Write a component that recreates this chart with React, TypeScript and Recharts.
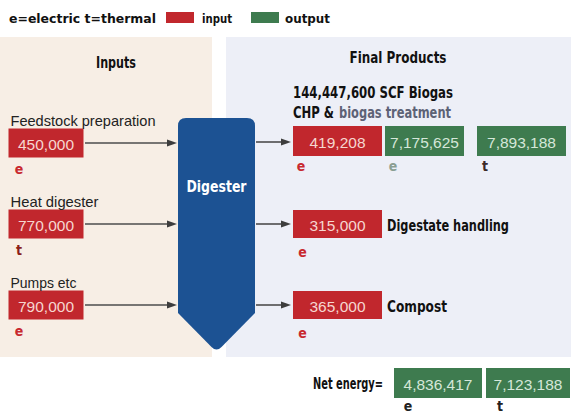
import React from "react";
import { ComposedChart, XAxis, YAxis, Scatter, ReferenceArea, ReferenceLine } from "recharts";

// ---------------- data ----------------
const legendNote = "e=electric t=thermal";
const legendKinds = ["input", "output"];

const inputsTitle = "Inputs";
const productsTitle = "Final Products";
const digesterLabel = "Digester";

const inputLabels = ["Feedstock preparation", "Heat digester", "Pumps etc"];
const inputValues = [450000, 770000, 790000];
const inputTypes = ["e", "t", "e"];

const biogasLabel = "144,447,600 SCF Biogas";
const chpLabelParts = ["CHP &", "biogas treatment"];
const chpValues = [419208, 7175625, 7893188];
const chpKinds = ["input", "output", "output"];
const chpTypes = ["e", "e", "t"];

const productLabels = ["Digestate handling", "Compost"];
const productValues = [315000, 365000];
const productTypes = ["e", "e"];

const netLabel = "Net energy=";
const netValues = [4836417, 7123188];
const netKinds = ["output", "output"];
const netTypes = ["e", "t"];

// ---------------- layout & style ----------------
const W = 571;
const H = 414;
const ROW_Y = [143, 224, 305];
const FILL: Record<string, string> = { input: "#c1272d", output: "#3e7b4f" };
const TEXT_ON: Record<string, string> = { input: "#f6d6d0", output: "#d5e7d9" };
const NARROW = "'Liberation Sans Narrow','DejaVu Sans Condensed','Arial Narrow',sans-serif";
const SANS = "'Liberation Sans',Arial,sans-serif";

const fmt = (v: number) => v.toLocaleString("en-US");

type Box = {
  x: number;
  y: number;
  w: number;
  h: number;
  value: number;
  kind: string;
  type: string;
  typeColor: string;
  typeDx: number;
  typeDy: number;
  label?: string;
  labelMode?: "above" | "right";
  labelLen?: number;
};

const inputBoxes: Box[] = inputValues.map((v, i) => ({
  x: 46,
  y: ROW_Y[i],
  w: 75,
  h: 29,
  value: v,
  kind: "input",
  type: inputTypes[i],
  typeColor: inputTypes[i] === "e" ? "#c8292f" : "#8a1f1a",
  typeDx: -27,
  typeDy: 26,
  label: inputLabels[i],
  labelMode: "above",
  labelLen: [145, 88, 66][i],
}));

const chpCenters = [337.5, 424.5, 521.5];
const chpWidths = [89, 79, 89];
const chpTypeColors = ["#c8292f", "#8a9e92", "#3a2a28"];
const chpBoxes: Box[] = chpValues.map((v, i) => ({
  x: chpCenters[i],
  y: 141,
  w: chpWidths[i],
  h: 30,
  value: v,
  kind: chpKinds[i],
  type: chpTypes[i],
  typeColor: chpTypeColors[i],
  typeDx: -chpWidths[i] / 2 + 8,
  typeDy: 25,
}));

const productBoxes: Box[] = productValues.map((v, i) => ({
  x: 337.5,
  y: ROW_Y[i + 1],
  w: 89,
  h: 28,
  value: v,
  kind: "input",
  type: productTypes[i],
  typeColor: "#c8292f",
  typeDx: -35,
  typeDy: 28,
  label: productLabels[i],
  labelMode: "right",
  labelLen: [122, 60][i],
}));

const netCenters = [438, 528];
const netWidths = [88, 84];
const netBoxes: Box[] = netValues.map((v, i) => ({
  x: netCenters[i],
  y: 383,
  w: netWidths[i],
  h: 30,
  value: v,
  kind: netKinds[i],
  type: netTypes[i],
  typeColor: "#222222",
  typeDx: -netWidths[i] / 2 + 14,
  typeDy: 23,
}));

type TextItem = {
  x: number;
  y: number;
  text: string;
  anchor: "start" | "middle" | "end";
  size: number;
  len: number;
  fill: string;
};

const textItems: TextItem[] = [
  { x: 9, y: 18, text: legendNote, anchor: "start", size: 13, len: 147, fill: "#111" },
  { x: 202, y: 18, text: legendKinds[0], anchor: "start", size: 13, len: 30, fill: "#111" },
  { x: 285, y: 18, text: legendKinds[1], anchor: "start", size: 13, len: 45, fill: "#111" },
  { x: 116, y: 63, text: inputsTitle, anchor: "middle", size: 15, len: 40, fill: "#111" },
  { x: 398, y: 58, text: productsTitle, anchor: "middle", size: 15, len: 97, fill: "#111" },
  { x: 293, y: 92, text: biogasLabel, anchor: "start", size: 16, len: 160, fill: "#111" },
  { x: 293, y: 112, text: chpLabelParts[0], anchor: "start", size: 16, len: 41, fill: "#111" },
  { x: 339, y: 112, text: chpLabelParts[1], anchor: "start", size: 16, len: 112, fill: "#5d6276" },
  { x: 383, y: 384, text: netLabel, anchor: "end", size: 15, len: 70, fill: "#111" },
];

const leftArrows = ROW_Y.map((y) => ({ x1: 85, x2: 177, y }));
const rightArrows = ROW_Y.map((y, i) => ({ x1: 256, x2: 291, y: i === 0 ? 142 : y }));

// ---------------- shapes ----------------
const BoxShape = (props: any) => {
  const { cx, cy, payload } = props;
  const p: Box = payload;
  if (cx == null || cy == null) return <g />;
  return (
    <g>
      <rect x={cx - p.w / 2} y={cy - p.h / 2} width={p.w} height={p.h} fill={FILL[p.kind]} />
      <text
        x={cx}
        y={cy + 1}
        textAnchor="middle"
        dominantBaseline="central"
        fontFamily={SANS}
        fontSize={15.5}
        fill={TEXT_ON[p.kind]}
      >
        {fmt(p.value)}
      </text>
      <text
        x={cx + p.typeDx}
        y={cy + p.typeDy}
        textAnchor="middle"
        dominantBaseline="central"
        fontFamily={NARROW}
        fontWeight="bold"
        fontSize={14}
        fill={p.typeColor}
      >
        {p.type}
      </text>
      {p.label && p.labelMode === "above" && (
        <text
          x={cx - p.w / 2 + 2}
          y={cy - 23}
          dominantBaseline="central"
          fontFamily={SANS}
          fontSize={15}
          fill="#222"
          textLength={p.labelLen}
          lengthAdjust="spacingAndGlyphs"
        >
          {p.label}
        </text>
      )}
      {p.label && p.labelMode === "right" && (
        <text
          x={cx + p.w / 2 + 5}
          y={cy + 1}
          dominantBaseline="central"
          fontFamily={NARROW}
          fontWeight="bold"
          fontSize={16.5}
          fill="#111"
          textLength={p.labelLen}
          lengthAdjust="spacingAndGlyphs"
        >
          {p.label}
        </text>
      )}
    </g>
  );
};

const TextShape = (props: any) => {
  const { cx, cy, payload } = props;
  const t: TextItem = payload;
  if (cx == null || cy == null) return <g />;
  return (
    <text
      x={cx}
      y={cy}
      textAnchor={t.anchor}
      dominantBaseline="central"
      fontFamily={NARROW}
      fontWeight="bold"
      fontSize={t.size}
      fill={t.fill}
      textLength={t.len}
      lengthAdjust="spacingAndGlyphs"
    >
      {t.text}
    </text>
  );
};

const ArrowShape = (props: any) => {
  const { x1, y1, x2, y2 } = props;
  return (
    <g>
      <line x1={x1} y1={y1} x2={x2 - 6} y2={y2} stroke="#4d4d4d" strokeWidth={1.6} />
      <polygon points={`${x2},${y2} ${x2 - 10},${y2 - 3.5} ${x2 - 10},${y2 + 3.5}`} fill="#3d3d3d" />
    </g>
  );
};

const DigesterShape = (props: any) => {
  const { x, y, width, height } = props;
  const r = 8;
  const cx = x + width / 2;
  const yb = y + height - 38;
  const bottom = y + height;
  const d = `M ${x} ${y + r} Q ${x} ${y} ${x + r} ${y} L ${x + width - r} ${y} Q ${x + width} ${y} ${x + width} ${y + r}
    L ${x + width} ${yb} L ${cx + 5} ${bottom - 4} Q ${cx} ${bottom + 1} ${cx - 5} ${bottom - 4} L ${x} ${yb} Z`;
  return (
    <g>
      <path d={d} fill="#1c5293" />
      <text
        x={cx}
        y={y + 68}
        textAnchor="middle"
        dominantBaseline="central"
        fontFamily={NARROW}
        fontWeight="bold"
        fontSize={16}
        fill="#ffffff"
        textLength={60}
        lengthAdjust="spacingAndGlyphs"
      >
        {digesterLabel}
      </text>
    </g>
  );
};

export default function App() {
  return (
    <div style={{ position: "absolute", left: 0, top: 0, width: W, height: H, background: "#ffffff" }}>
      <ComposedChart width={W} height={H} margin={{ top: 0, right: 0, bottom: 0, left: 0 }}>
        <XAxis dataKey="x" type="number" domain={[0, W]} hide allowDataOverflow />
        <YAxis dataKey="y" type="number" domain={[0, H]} reversed hide allowDataOverflow />

        {/* backgrounds */}
        <ReferenceArea x1={0} x2={212} y1={37} y2={357} fill="#f7eee5" fillOpacity={1} stroke="none" />
        <ReferenceArea x1={226} x2={W} y1={37} y2={357} fill="#edeff7" fillOpacity={1} stroke="none" />

        {/* legend swatches */}
        <ReferenceArea x1={166} x2={194} y1={12} y2={23} fill={FILL.input} fillOpacity={1} stroke="none" />
        <ReferenceArea x1={251} x2={279} y1={12} y2={23} fill={FILL.output} fillOpacity={1} stroke="none" />

        {/* arrows */}
        {leftArrows.map((a, i) => (
          <ReferenceLine
            key={`la${i}`}
            segment={[{ x: a.x1, y: a.y }, { x: a.x2, y: a.y }]}
            shape={ArrowShape}
          />
        ))}
        {rightArrows.map((a, i) => (
          <ReferenceLine
            key={`ra${i}`}
            segment={[{ x: a.x1, y: a.y }, { x: a.x2, y: a.y }]}
            shape={ArrowShape}
          />
        ))}

        {/* digester */}
        <ReferenceArea x1={178} x2={255} y1={118} y2={351} shape={DigesterShape} />

        <Scatter data={textItems} dataKey="y" shape={TextShape} isAnimationActive={false} />
        <Scatter data={inputBoxes} dataKey="y" shape={BoxShape} isAnimationActive={false} />
        <Scatter data={chpBoxes} dataKey="y" shape={BoxShape} isAnimationActive={false} />
        <Scatter data={productBoxes} dataKey="y" shape={BoxShape} isAnimationActive={false} />
        <Scatter data={netBoxes} dataKey="y" shape={BoxShape} isAnimationActive={false} />
      </ComposedChart>
    </div>
  );
}
